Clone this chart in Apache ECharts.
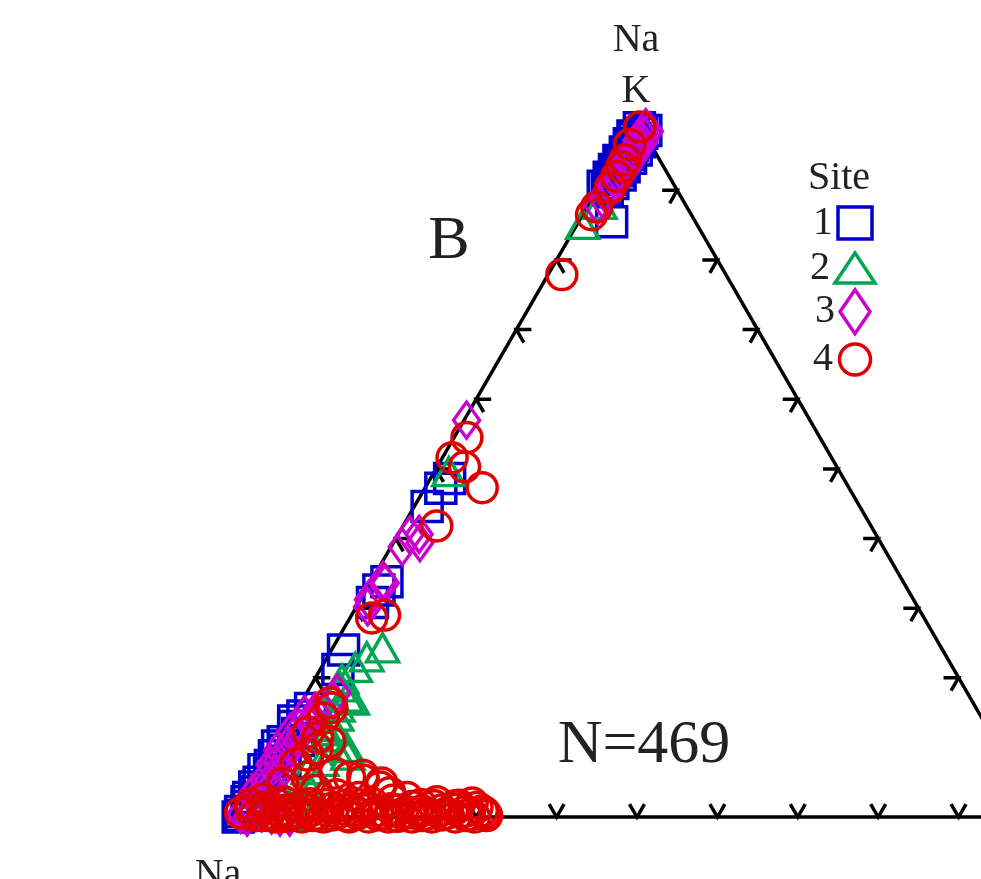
<!DOCTYPE html>
<html>
<head>
<meta charset="utf-8">
<script src="https://cdn.jsdelivr.net/npm/echarts@6/dist/echarts.min.js"></script>
<style>
  html, body { margin: 0; padding: 0; background: #fff; }
  #chart { width: 981px; height: 879px; }
</style>
</head>
<body>
<div id="chart"></div>
<script>
// ternary points, [top %, right %] (bottom-left share is the rest)
const site1 = [
  [99, 0.8], [98.6, 1.8], [98.2, 1.5], [97.8, 0.6], [97.5, 1], [97, 1.8], [96.7, 0.7], [96.4, 1.2],
  [95.8, 2], [95.5, 0.8], [95.2, 1.4], [94.6, 1.9], [94.3, 0.6], [94, 1.1], [93.4, 1.7], [93, 0.7],
  [92.8, 1.2], [92.2, 1.8], [91.9, 0.6], [91.6, 1.1], [91, 1.5], [90.6, 0.5], [90.2, 1.2], [85.5, 4.1],
  [48.6, 2.4], [47.2, 2], [44.6, 1.6], [33.8, 2], [32.6, 1.6], [30.8, 1.7], [24, 1.5], [21.2, 2.2],
  [15.6, 1.6], [14.5, 1.2], [13.8, 0.4], [13, 0.8], [12, 1.8], [11, 2.4], [10.8, 0.6], [10.2, 0.2],
  [9.6, 1.4], [8.8, 0.5], [8, 2.2], [7.4, 0.7], [6.8, 0.2], [6.2, 1.2], [5, 0.5], [4.3, 0.3],
  [3.6, 0.8], [2.8, 0.3], [2.2, 0.4], [1.5, 0.8], [0.8, 0.3], [0.2, 0.6], [0, 0.4]
];
const site2 = [
  [88, 1.4], [85.1, 0.7], [49.6, 1.8], [24.3, 6.2], [23, 4.9], [21.5, 4.2], [19.8, 3.4], [18.7, 3.7],
  [17.2, 5.3], [16.8, 6.2], [15.8, 4.9], [14.5, 5.4], [13, 4.5], [12.4, 6.2], [11.5, 5.5], [10, 7.4],
  [10, 8.9], [8.9, 9.6], [8, 6.8], [6.8, 5.7], [5.3, 7.6], [4.5, 6.8], [3.2, 4.4], [2, 3], [1, 4.5],
  [0.5, 7], [0.2, 9.5]
];
const site3 = [
  [99, 1.6], [98.5, 2.3], [98, 1.8], [97.2, 1.4], [96.8, 2.4], [96.3, 2], [95.4, 1.5], [95, 2.3],
  [94.5, 1.9], [93.6, 1.4], [93.2, 2.2], [92.6, 1.8], [91.6, 1.3], [91.2, 2], [90.6, 1.6], [89.6, 1.2],
  [88.6, 1.5], [87.8, 1.2],
  [57, 0.3], [40.6, 2.6], [40.5, 1.5], [39.4, 3.3], [38.8, 1.4], [34, 1.4], [33.6, 1.9], [31.2, 1],
  [30.2, 1.4], [17.8, 3.8], [16.8, 3.8], [15.2, 2.4], [14.7, 1.3], [14, 2.8], [13.5, 2.4], [12.8, 1.6],
  [12.1, 0.8], [11.2, 2.2], [10.4, 1.4], [9.6, 0.5], [9, 2], [8.2, 1.3], [7.5, 0.6], [7, 2.6],
  [6.2, 1.8], [5.3, 0.9], [4.5, 2.2], [3.9, 1.4], [3.4, 0.5], [2.4, 1.2], [1.8, 2.6], [1, 1.7],
  [0.6, 3], [0.3, 4.4], [0, 5.6], [0, 6.8], [0, 1.5], [0.4, 0.5]
];
const site4 = [
  [99.1, 0.8], [96.6, 0.8], [94.4, 1.3], [93.4, 1.4], [92, 1.5], [90.4, 1.5], [87.6, 1.2], [86.5, 1.1],
  [77.9, 1.7], [54.5, 1.6], [51.6, 1.2], [50.3, 3.4], [47.3, 7.1], [41.8, 4.2], [29, 4.1], [28.6, 2.7],
  [16.4, 3.6], [15.7, 4.2], [14.2, 3.9], [12.2, 3], [11.4, 4.6], [10.8, 6.4], [9.8, 5.3], [8.9, 4.6],
  [7.6, 3.8], [6.3, 9.3], [5.7, 11.4], [5.3, 13.3], [4.3, 15.9], [4.9, 3.5], [5.7, 6.1], [6, 12.9],
  [4.9, 15.8], [3.5, 17.5], [2.8, 20], [2.2, 24], [1.7, 27], [2, 28.5], [3.8, 8.2], [3.2, 11],
  [2.6, 2.2], [2.2, 5], [2.8, 14], [2.4, 18.4],
  [0.6, 0.4], [1, 1.5], [0.2, 2.4], [1.4, 3], [0.5, 4], [0, 5], [1, 5.8], [0.4, 6.8],
  [1.5, 7.4], [0, 8.3], [0.9, 9], [0.4, 10], [0, 11], [1.3, 11.6], [0.6, 12.5], [1, 13.4],
  [0, 14.2], [0.5, 15], [1.4, 15.7], [0, 16.6], [0.9, 17.3], [0.4, 18.2], [0, 19.1], [1, 19.8],
  [0.5, 20.6], [1.5, 21.2], [0, 22], [0.9, 22.8], [0.4, 23.6], [0, 24.5], [1, 25.2], [0.5, 26],
  [1.6, 26.6], [0, 27.4], [0.8, 28.2], [0.3, 29], [0, 29.8], [0.9, 30.3], [0.2, 31.2],
  [1.8, 1], [0.2, 3.3], [1.8, 4.4], [0.7, 5.4], [0.1, 6.2], [1.9, 8.4], [0.6, 7.8], [0.2, 9.6],
  [1.8, 10.4], [0.3, 12], [1.7, 12.8], [0.2, 13.8], [0.8, 14.6], [1.9, 16.2], [0.3, 17.6], [1.2, 18.8],
  [0.1, 20.2], [1.8, 22.2], [0.6, 21.6], [0.2, 23.2], [1.6, 24], [0.3, 25.6], [1.1, 26.8], [0.2, 28.6],
  [1.4, 29.4], [0.6, 30.8]
];
const siteNames = ["1", "2", "3", "4"];
const tickSteps = [0.1, 0.2, 0.3, 0.4, 0.5, 0.6, 0.7, 0.8, 0.9];

const SERIF = "'Liberation Serif', 'DejaVu Serif', serif";
const H = Math.sqrt(3) / 2;

// ternary -> plane, side length 1
function toXY(p) {
  const t = p[0] / 100;
  const r = p[1] / 100;
  return [r + t / 2, t * H];
}

// tick points on each edge: 0 bottom, 1 right, 2 left
const ticks = [];
tickSteps.forEach((s) => {
  ticks.push([s, 0, 0]);
  ticks.push([0.5 + s / 2, H * (1 - s), 1]);
  ticks.push([s / 2, H * s, 2]);
});
const tickDirs = [
  [[-0.5, -H], [0.5, -H]],
  [[-1, 0], [-0.5, H]],
  [[1, 0], [0.5, H]],
];
const TICK = 15;

const chart = echarts.init(document.getElementById("chart"));

const styles = [
  { symbol: "rect", size: [30, 30], color: "#0000cc", legend: [34, 32], cy: 219 },
  { symbol: "triangle", size: [32, 28], color: "#00a651", legend: [40, 30], cy: 263 },
  { symbol: "diamond", size: [26, 36], color: "#cc00cc", legend: [30, 44], cy: 310 },
  { symbol: "circle", size: [30, 30], color: "#e00000", legend: [34, 31], cy: 355 },
];
const sites = [site1, site2, site3, site4];

const option = {
  animation: false,
  grid: { left: 0, right: 0, top: 0, bottom: 0 },
  xAxis: { type: "value", min: -0.2923, max: 0.9279, show: false },
  yAxis: { type: "value", min: -0.0771, max: 1.0162, show: false },
  legend: styles.map((s, i) => ({
    data: [siteNames[i]],
    orient: "vertical",
    align: "right",
    padding: 0,
    selectedMode: false,
    left: 855 - s.legend[0] / 2 - 25,
    top: s.cy - s.legend[1] / 2,
    itemWidth: s.legend[0],
    itemHeight: s.legend[1],
    itemStyle: { borderWidth: 3.5 },
    textStyle: { fontFamily: SERIF, fontSize: 40, color: "#222", lineHeight: s.legend[1] },
  })),
  graphic: [
    { type: "text", x: 636, y: 40, style: { text: "Na", font: "40px " + SERIF, fill: "#222", align: "center", verticalAlign: "middle" } },
    { type: "text", x: 636, y: 91, style: { text: "K", font: "40px " + SERIF, fill: "#222", align: "center", verticalAlign: "middle" } },
    { type: "text", x: 218, y: 875, style: { text: "Na", font: "40px " + SERIF, fill: "#222", align: "center", verticalAlign: "middle" } },
    { type: "text", x: 449, y: 242, style: { text: "B", font: "62px " + SERIF, fill: "#222", align: "center", verticalAlign: "middle" } },
    { type: "text", x: 644, y: 746, style: { text: "N=469", font: "62px " + SERIF, fill: "#222", align: "center", verticalAlign: "middle" } },
    { type: "text", x: 839, y: 178, style: { text: "Site", font: "40px " + SERIF, fill: "#222", align: "center", verticalAlign: "middle" } },
  ],
  series: [
    {
      type: "line",
      silent: true,
      symbol: "none",
      z: 1,
      lineStyle: { color: "#000", width: 3.5 },
      data: [[0, 0], [0.5, H], [1, 0], [0, 0]],
    },
    {
      type: "custom",
      silent: true,
      z: 1,
      data: ticks,
      renderItem(params, api) {
        const p = api.coord([api.value(0), api.value(1)]);
        const d = tickDirs[api.value(2)];
        return {
          type: "polyline",
          shape: {
            points: [
              [p[0] + TICK * d[0][0], p[1] + TICK * d[0][1]],
              p,
              [p[0] + TICK * d[1][0], p[1] + TICK * d[1][1]],
            ],
          },
          style: { stroke: "#000", lineWidth: 3.5, fill: null },
        };
      },
    },
    ...sites.map((data, i) => ({
      name: siteNames[i],
      type: "scatter",
      z: 2,
      symbol: styles[i].symbol,
      symbolSize: styles[i].size,
      itemStyle: { color: "rgba(0,0,0,0)", borderColor: styles[i].color, borderWidth: 3.5, opacity: 1 },
      data: data.map(toXY),
    })),
  ],
};
chart.setOption(option);
</script>
</body>
</html>
